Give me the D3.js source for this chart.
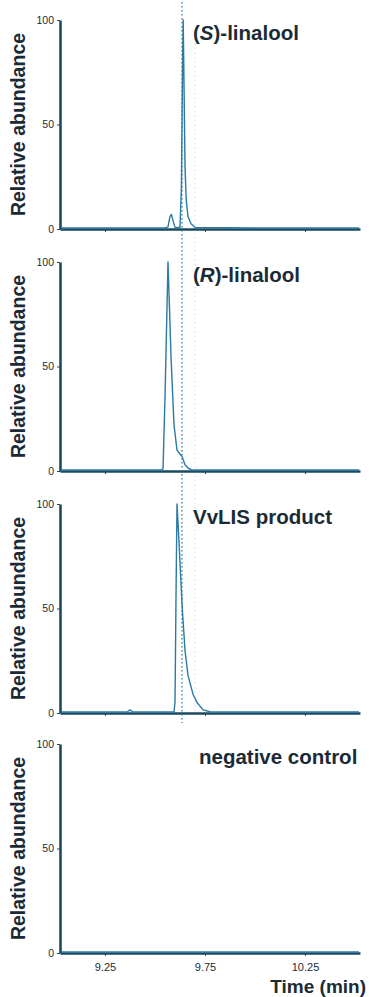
<!DOCTYPE html>
<html><head><meta charset="utf-8">
<script src="https://cdn.jsdelivr.net/npm/d3@7"></script>
<style>html,body{margin:0;padding:0;background:#fff;}svg{display:block;}</style>
</head><body>
<script>
// ---- data ----
const panelLabels = ["(S)-linalool", "(R)-linalool", "VvLIS product", "negative control"];
const yTickValues = [0, 50, 100];
const yTickLabels = ["0", "50", "100"];
const xTickValues = [9.25, 9.75, 10.25];
const xTickLabels = ["9.25", "9.75", "10.25"];
const referenceTime = 9.635;
const faintTime = 9.70;
const yTitle = "Relative abundance";
const xTitle = "Time (min)";

const timeS = [9.03, 9.30, 9.55, 9.565, 9.575, 9.582, 9.59, 9.60, 9.625, 9.632, 9.638, 9.641, 9.645, 9.65, 9.656, 9.665, 9.68, 9.70, 10.0, 10.52];
const abundS = [0.5, 0.5, 0.5, 1, 6, 7, 4, 0.8, 0.8, 20, 80, 100, 70, 30, 14, 6, 2.5, 0.8, 0.5, 0.5];

const timeR = [9.03, 9.53, 9.54, 9.55, 9.565, 9.58, 9.595, 9.61, 9.625, 9.635, 9.65, 9.668, 9.685, 10.0, 10.52];
const abundR = [0.5, 0.5, 1, 35, 100, 55, 22, 10, 8, 7, 3, 1.2, 0.5, 0.5, 0.5];

const timeV = [9.03, 9.36, 9.375, 9.39, 9.595, 9.60, 9.605, 9.61, 9.62, 9.635, 9.65, 9.665, 9.69, 9.71, 9.74, 9.78, 10.52];
const abundV = [0.5, 0.5, 1.5, 0.5, 0.5, 5, 55, 100, 82, 52, 30, 18, 9, 5, 1.5, 0.5, 0.5];

const timeN = [9.03, 9.50, 10.00, 10.52];
const abundN = [0.5, 0.5, 0.5, 0.5];

const seriesTimes = [timeS, timeR, timeV, timeN];
const seriesAbund = [abundS, abundR, abundV, abundN];

// ---- layout ----
const W = 369, H = 997;
const panelTop = [20, 262, 504, 744];
const panelH = 209;
const axisColor = "#1b4a60";
const traceColor = "#2c79a3";
const textColor = "#1b2b35";
const font = "Liberation Sans, Arial, sans-serif";

const svg = d3.select("body").append("svg").attr("width", W).attr("height", H);
const x = d3.scaleLinear().domain([9.025, 10.525]).range([60, 360]);

seriesTimes.forEach((times, i) => {
  const top = panelTop[i], bottom = top + panelH;
  const y = d3.scaleLinear().domain([0, 100]).range([bottom, top]);
  const g = svg.append("g");

  // y axis
  const yAxis = d3.axisLeft(y).tickValues(yTickValues).tickFormat((d, k) => yTickLabels[k]).tickSize(3).tickSizeOuter(0);
  const ya = g.append("g").attr("transform", `translate(${x.range()[0]},0)`).call(yAxis);
  ya.select(".domain").attr("stroke", axisColor).attr("stroke-width", 2.6);
  ya.selectAll(".tick line").attr("stroke", axisColor).attr("stroke-width", 1);
  ya.selectAll(".tick text").attr("font-family", font).attr("font-size", 10.5).attr("fill", textColor).attr("x", -6);

  // x axis
  const xAxis = d3.axisBottom(x).tickValues(xTickValues).tickFormat((d, k) => i === 3 ? xTickLabels[k] : "").tickSize(3).tickSizeOuter(0);
  const xa = g.append("g").attr("transform", `translate(0,${bottom})`).call(xAxis);
  xa.select(".domain").attr("stroke", axisColor).attr("stroke-width", 2.6);
  xa.selectAll(".tick line").attr("stroke", axisColor).attr("stroke-width", 1);
  xa.selectAll(".tick text").attr("font-family", font).attr("font-size", 11).attr("fill", textColor).attr("dy", "1.1em");

  // trace
  const line = d3.line().x((d, k) => x(times[k])).y(d => y(d));
  g.append("path").datum(seriesAbund[i]).attr("d", line)
    .attr("fill", "none").attr("stroke", traceColor).attr("stroke-width", 1.4).attr("stroke-linejoin", "round");

  // y title
  g.append("text").attr("transform", `translate(25,${(top + bottom) / 2}) rotate(-90)`)
    .attr("text-anchor", "middle").attr("font-family", font).attr("font-size", 19.5).attr("font-weight", "bold")
    .attr("fill", textColor).text(yTitle);

  // panel label
  const lab = g.append("text").attr("font-family", font).attr("font-size", 20.5).attr("font-weight", "bold").attr("fill", textColor)
    .attr("x", i === 3 ? 199 : 193).attr("y", top + 20);
  const m = panelLabels[i].match(/^\((\w)\)(.*)$/);
  if (m) {
    lab.append("tspan").text("(");
    lab.append("tspan").attr("font-style", "italic").text(m[1]);
    lab.append("tspan").text(")" + m[2]);
  } else {
    lab.text(panelLabels[i]);
  }
});

// faint second dotted line
svg.append("line").attr("x1", x(faintTime)).attr("x2", x(faintTime))
  .attr("y1", panelTop[0] + 10).attr("y2", panelTop[2] + panelH)
  .attr("stroke", traceColor).attr("stroke-opacity", 0.25).attr("stroke-width", 1).attr("stroke-dasharray", "1.5,3");

// reference dotted line through first three panels
svg.append("line").attr("x1", x(referenceTime)).attr("x2", x(referenceTime))
  .attr("y1", 2).attr("y2", panelTop[2] + panelH + 10)
  .attr("stroke", traceColor).attr("stroke-width", 1.3).attr("stroke-dasharray", "1.5,2.5");

// x title
svg.append("text").attr("x", 366).attr("y", 993).attr("text-anchor", "end").attr("font-family", font).attr("font-size", 19).attr("font-weight", "bold")
  .attr("fill", textColor).text(xTitle);
</script>
</body></html>
